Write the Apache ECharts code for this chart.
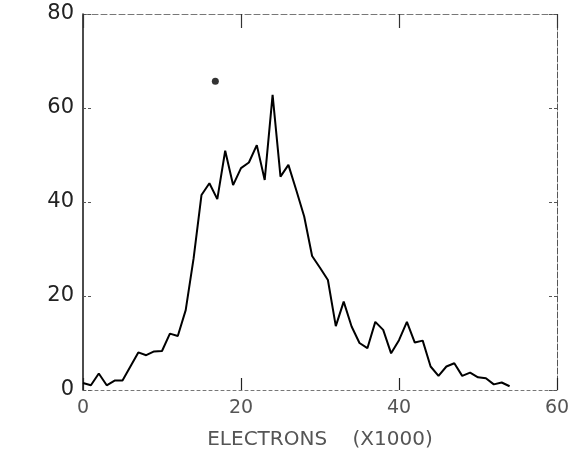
<!DOCTYPE html>
<html><head><meta charset="utf-8">
<script src="https://cdn.jsdelivr.net/npm/echarts@6/dist/echarts.min.js"></script>
<style>html,body{margin:0;padding:0;background:#fff}#c{width:585px;height:456px}</style>
</head><body><div id="c"></div>
<script>
const electronsK = [0,1,2,3,4,5,6,7,8,9,10,11,12,13,14,15,16,17,18,19,20,21,22,23,24,25,26,27,28,29,30,31,32,33,34,35,36,37,38,39,40,41,42,43,44,45,46,47,48,49,50,51,52,53,54];
const counts = [1.5,1,3.5,1,2,2,5,8,7.4,8.2,8.3,12,11.5,17,28,41.5,44,40.6,50.9,43.6,47.2,48.4,52.1,44.7,62.8,45.4,47.9,42.5,36.9,28.5,26,23.4,13.6,18.8,13.5,10,8.9,14.5,12.8,7.8,10.6,14.5,10.1,10.5,5,3,5,5.7,3,3.7,2.7,2.5,1.2,1.6,0.8];
const strayX = [16.75];
const strayY = [65.7];
const xTicks = [0,20,40,60];
const yTicks = [0,20,40,60,80];

const chart = echarts.init(document.getElementById('c'));
const font = '"DejaVu Sans", "Liberation Sans", Arial, sans-serif';
chart.setOption({
  backgroundColor: '#fff',
  animation: false,
  grid: {left: 83, right: 28, top: 14, bottom: 66},
  xAxis: [{
    type: 'value', min: xTicks[0], max: xTicks[xTicks.length-1], interval: 20,
    name: 'ELECTRONS    (X1000)', nameLocation: 'middle', nameGap: 40,
    nameTextStyle: {fontFamily: font, fontSize: 20, color: '#555'},
    axisLine: {onZero: false, lineStyle: {color: '#777', width: 1, type: [3, 3]}},
    axisTick: {inside: true, length: 12, lineStyle: {color: '#222', width: 1.2}},
    axisLabel: {margin: 9, fontFamily: font, fontSize: 19, color: '#555'},
    splitLine: {show: false}
  }, {
    type: 'value', position: 'top', min: 0, max: 60, interval: 20,
    axisLine: {show: true, onZero: false, lineStyle: {color: '#777', width: 1, type: [6, 3]}},
    axisTick: {inside: true, length: 14, lineStyle: {color: '#333', width: 1.2}},
    axisLabel: {show: false}, splitLine: {show: false}
  }],
  yAxis: [{
    type: 'value', min: yTicks[0], max: yTicks[yTicks.length-1], interval: 20,
    axisLine: {show: true, onZero: false, lineStyle: {color: '#111', width: 1.5}},
    axisTick: {inside: true, length: 9, lineStyle: {color: '#555', width: 1, type: [3, 2]}},
    axisLabel: {margin: 9, fontFamily: font, fontSize: 21, color: '#222'},
    splitLine: {show: false}
  }, {
    type: 'value', position: 'right', min: 0, max: 80, interval: 20,
    axisLine: {show: true, onZero: false, lineStyle: {color: '#555', width: 1, type: [6, 2]}},
    axisTick: {inside: true, length: 9, lineStyle: {color: '#555', width: 1, type: [3, 2]}},
    axisLabel: {show: false}, splitLine: {show: false}
  }],
  series: [{
    type: 'line', xAxisIndex: 0, yAxisIndex: 0,
    data: electronsK.map((x, i) => [x, counts[i]]),
    showSymbol: false, lineStyle: {color: '#000', width: 2}
  }, {
    type: 'scatter', xAxisIndex: 0, yAxisIndex: 0,
    data: strayX.map((x, i) => [x, strayY[i]]),
    symbolSize: 7, itemStyle: {color: '#000'}
  }]
});
</script></body></html>
